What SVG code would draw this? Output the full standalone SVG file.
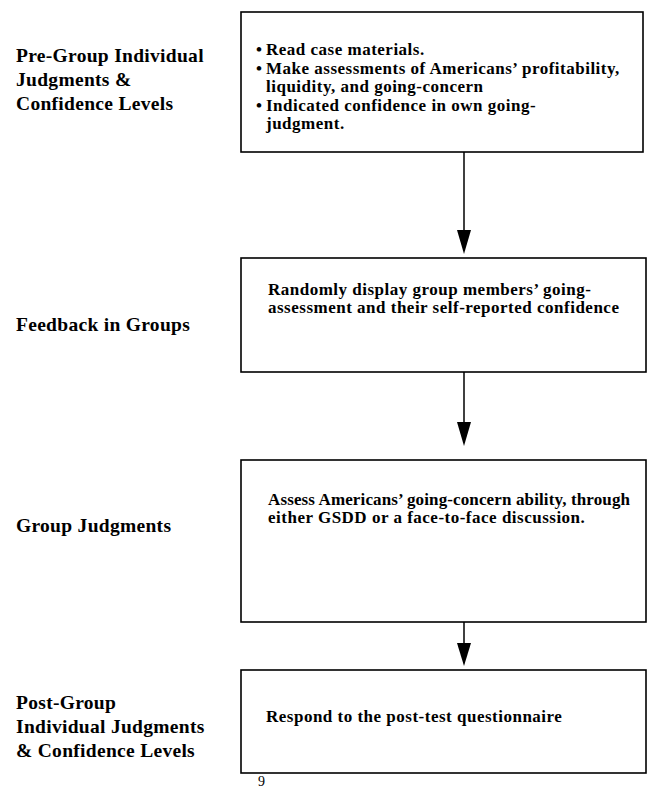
<svg xmlns="http://www.w3.org/2000/svg" width="648" height="789" viewBox="0 0 648 789">
<style>
.box{fill:#fff;stroke:#000;stroke-width:1.6}
.lbl{font-family:"Liberation Serif",serif;font-weight:bold;font-size:19.5px;letter-spacing:0.3px;fill:#000}
.txt{font-family:"Liberation Serif",serif;font-weight:bold;font-size:17px;letter-spacing:0.5px;fill:#000}
.conn{stroke:#000;stroke-width:1.5;fill:none}
</style>
<rect width="648" height="789" fill="#fff"/>
<g id="label-pregroup">
<text class="lbl" x="16" y="62">Pre-Group Individual</text>
<text class="lbl" x="16" y="86">Judgments &amp;</text>
<text class="lbl" x="16" y="110">Confidence Levels</text>
</g>
<g id="node1">
<rect class="box" x="241" y="12" width="402" height="140"/>
<text class="txt" x="256" y="55">•</text><text class="txt" x="266" y="55">Read case materials.</text>
<text class="txt" x="256" y="74">•</text><text class="txt" x="266" y="74">Make assessments of Americans’ profitability,</text>
<text class="txt" x="266" y="92">liquidity, and going-concern</text>
<text class="txt" x="256" y="111">•</text><text class="txt" x="266" y="111">Indicated confidence in own going-</text>
<text class="txt" x="266" y="129">judgment.</text>
</g>
<g id="label-feedback">
<text class="lbl" x="16" y="331">Feedback in Groups</text>
</g>
<g id="node2">
<rect class="box" x="241" y="258" width="405" height="114"/>
<text class="txt" x="268" y="295">Randomly display group members’ going-</text>
<text class="txt" x="268" y="313">assessment and their self-reported confidence</text>
</g>
<g id="label-group">
<text class="lbl" x="16" y="532">Group Judgments</text>
</g>
<g id="node3">
<rect class="box" x="241" y="460" width="405" height="162"/>
<text class="txt" x="268" y="505" textLength="362" lengthAdjust="spacing" style="letter-spacing:0">Assess Americans’ going-concern ability, through</text>
<text class="txt" x="268" y="523">either GSDD or a face-to-face discussion.</text>
</g>
<g id="label-post">
<text class="lbl" x="16" y="709">Post-Group</text>
<text class="lbl" x="16" y="733">Individual Judgments</text>
<text class="lbl" x="16" y="757">&amp; Confidence Levels</text>
</g>
<g id="node4">
<rect class="box" x="241" y="670" width="405" height="103"/>
<text class="txt" x="266" y="722">Respond to the post-test questionnaire</text>
</g>
<text x="258" y="786" font-family="Liberation Serif,serif" font-size="14" fill="#000">9</text>
<g id="connectors">
<line class="conn" x1="464" y1="152" x2="464" y2="234"/>
<path d="M457,230 L471,230 L464,254 Z" fill="#000"/>
<line class="conn" x1="464" y1="372" x2="464" y2="426"/>
<path d="M457,422 L471,422 L464,446 Z" fill="#000"/>
<line class="conn" x1="464" y1="622" x2="464" y2="650"/>
<path d="M457,643 L471,643 L464,666 Z" fill="#000"/>
</g>
</svg>
